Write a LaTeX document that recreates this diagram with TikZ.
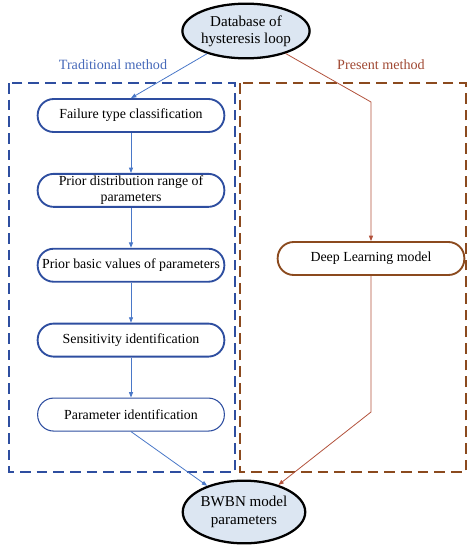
\documentclass[tikz,border=0pt]{standalone}
\usepackage{fontspec}
\setmainfont{Liberation Serif}
\usetikzlibrary{positioning, arrows.meta, shapes.geometric}
\definecolor{tradblue}{RGB}{46,78,160}
\definecolor{tradline}{RGB}{74,120,200}
\definecolor{tradtext}{RGB}{70,105,185}
\definecolor{presbrown}{RGB}{139,74,30}
\definecolor{presline}{RGB}{178,82,60}
\definecolor{prestext}{RGB}{160,72,50}
\definecolor{dbfill}{RGB}{220,230,242}
\tikzset{
  pill/.style={draw=tradblue, line width=1.4pt, rounded corners=12pt, minimum height=24.75pt, minimum width=140pt, inner sep=1pt, align=center, font=\fontsize{10.4}{12}\selectfont},
  thinpill/.style={pill, line width=0.8pt},
  dlpill/.style={pill, draw=presbrown},
  dbase/.style={ellipse, draw=black, line width=1.7pt, fill=dbfill, minimum width=89pt, minimum height=41pt, inner sep=0pt, align=center, font=\fontsize{11.3}{13}\selectfont},
  region/.style={dashed, dash pattern=on 8pt off 4.5pt, line width=1.4pt},
  tarr/.style={-{Triangle[length=4pt,width=3pt]}, draw=tradline, line width=0.6pt},
  parr/.style={tarr, draw=presline},
  tag/.style={font=\fontsize{10.6}{12}\selectfont}
}
\begin{document}
\begin{tikzpicture}[x=0.75pt, y=-0.75pt, node distance=30pt]
\useasboundingbox (0,0) rectangle (474,550);
% the two method regions
\draw[region, draw=tradblue] (9,83) rectangle (235,472);
\draw[region, draw=presbrown] (240,83) rectangle (466,472);
\node[tag, text=tradtext] (tradtag) at (113,65) {Traditional method};
\node[tag, text=prestext] (prestag) at (381,65) {Present method};
% start and end
\node[dbase] (db) at (246,31) {Database of\\hysteresis loop};
\node[dbase, minimum height=47pt] (bwbn) at (244,512) {BWBN model\\parameters};
% traditional chain
\node[pill] (fail) at (131,115.5) {Failure type classification};
\node[pill, below=of fail] (range) {Prior distribution range of\\parameters};
\node[pill, below=of range] (basic) {Prior basic values of parameters};
\node[pill, below=of basic] (sens) {Sensitivity identification};
\node[thinpill, below=of sens] (ident) {Parameter identification};
% present method
\node[dlpill] (deep) at (371,258.5) {Deep Learning model};
\coordinate (pin) at (371,102);
\coordinate (pout) at (371,412);
\draw[tarr] (db) -- (fail.north);
\draw[tarr] (fail) -- (range);
\draw[tarr] (range) -- (basic);
\draw[tarr] (basic) -- (sens);
\draw[tarr] (sens) -- (ident);
\draw[tarr] (ident.south) -- (bwbn);
\draw[parr] (db) -- (pin) -- (deep.north);
\draw[parr] (deep.south) -- (pout) -- (bwbn);
\end{tikzpicture}
\end{document}
